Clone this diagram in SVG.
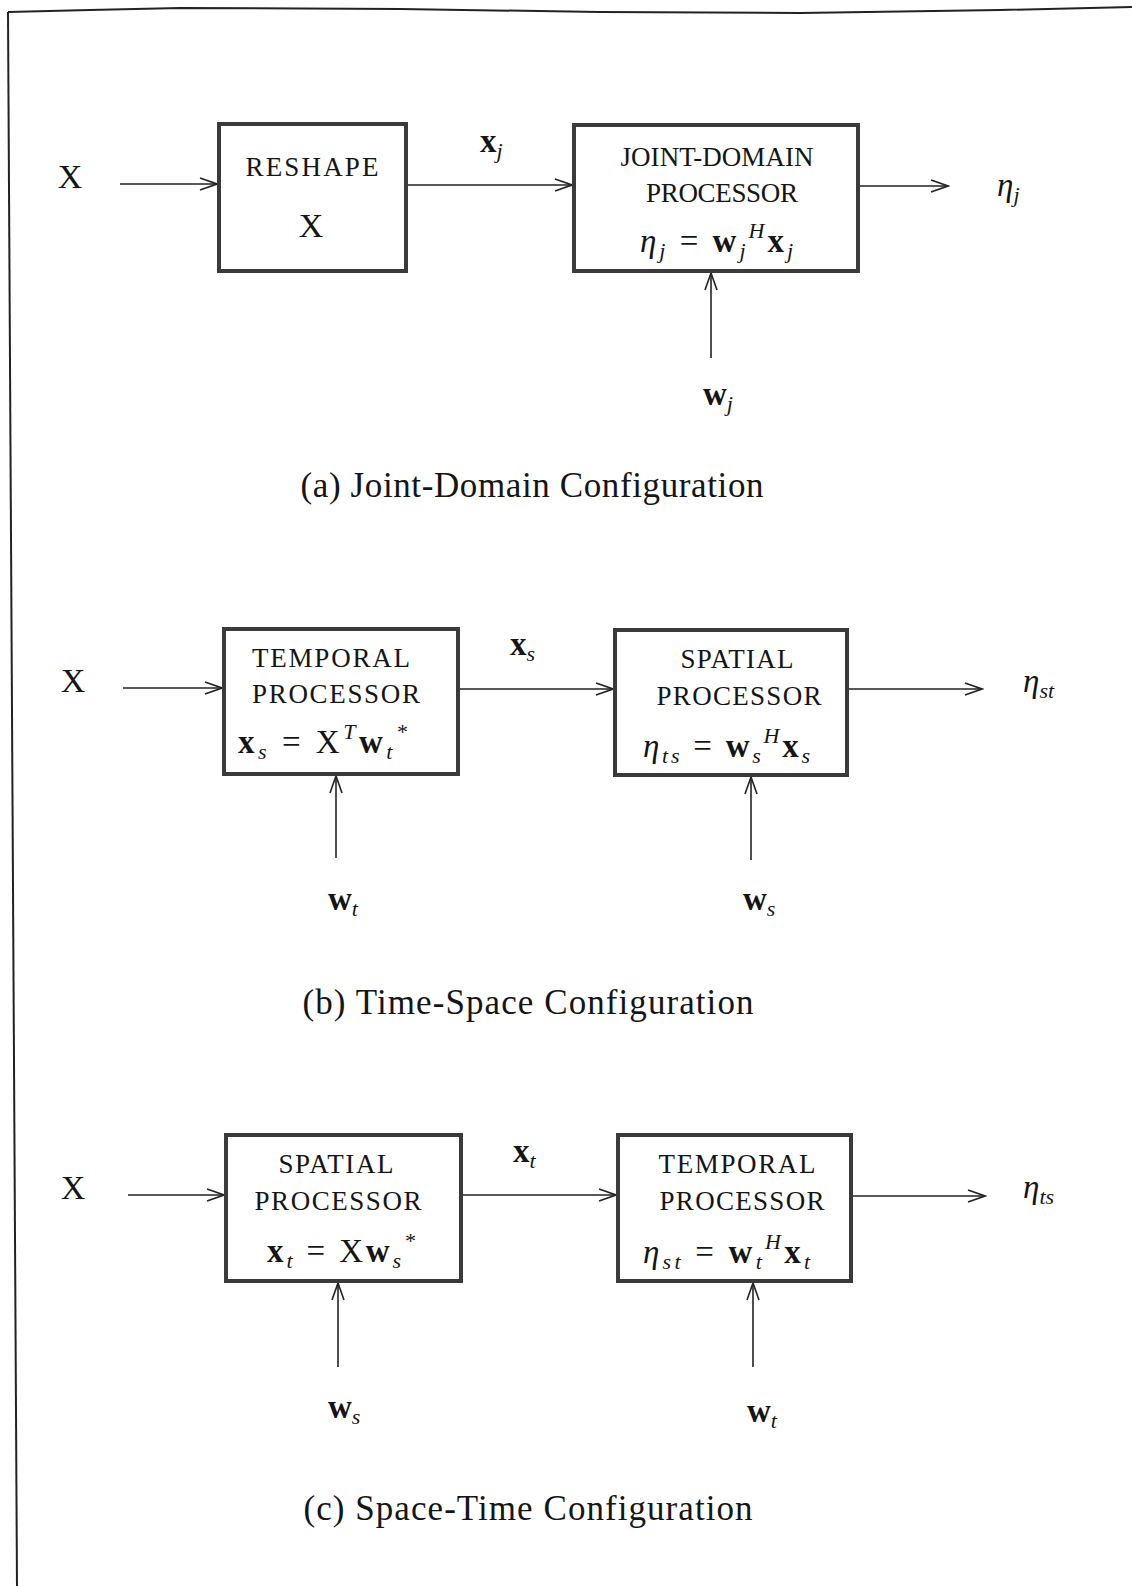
<svg xmlns="http://www.w3.org/2000/svg" width="1132" height="1586" viewBox="0 0 1132 1586">
<style>
text{font-family:"Liberation Serif","DejaVu Serif",serif;fill:#151515}
.box{fill:none;stroke:#3a3a3a;stroke-width:4}
.lbl{font-size:27px;text-anchor:middle}
.eq{font-size:33px}
.big{font-size:34px;text-anchor:middle}
.cap{font-size:35px;text-anchor:middle}
.v{font-weight:bold}
.it{font-style:italic}
.sub{font-size:22px;font-style:italic}
.sup{font-size:22px;font-style:italic}
.con line{stroke:#222;stroke-width:1.6}
.frame{fill:none;stroke:#222;stroke-width:2}
</style>
<defs>
<marker id="ah" markerUnits="userSpaceOnUse" markerWidth="20" markerHeight="16" viewBox="-18 -8 20 16" refX="0" refY="0" orient="auto">
<path d="M-17,-6 L0,0 L-17,6" fill="none" stroke="#222" stroke-width="1.6"/>
</marker>
</defs>
<rect width="1132" height="1586" fill="#fff"/>
<g id="frame">
<polyline class="frame" points="17,1586 8,12"/>
<polyline class="frame" points="8,12 90,10 180,8 400,9 600,12 800,13 1000,10 1132,7"/>
</g>

<g class="con" id="connectors">
<line x1="120" y1="184" x2="217" y2="184" marker-end="url(#ah)"/>
<line x1="408" y1="185" x2="572" y2="185" marker-end="url(#ah)"/>
<line x1="860" y1="186" x2="948" y2="186" marker-end="url(#ah)"/>
<line x1="711" y1="358" x2="711" y2="273" marker-end="url(#ah)"/>

<line x1="123" y1="688" x2="222" y2="688" marker-end="url(#ah)"/>
<line x1="460" y1="689" x2="613" y2="689" marker-end="url(#ah)"/>
<line x1="849" y1="689" x2="982" y2="689" marker-end="url(#ah)"/>
<line x1="336" y1="858" x2="336" y2="776" marker-end="url(#ah)"/>
<line x1="751" y1="860" x2="751" y2="777" marker-end="url(#ah)"/>

<line x1="128" y1="1195" x2="224" y2="1195" marker-end="url(#ah)"/>
<line x1="463" y1="1195" x2="616" y2="1195" marker-end="url(#ah)"/>
<line x1="853" y1="1196" x2="985" y2="1196" marker-end="url(#ah)"/>
<line x1="338" y1="1367" x2="338" y2="1283" marker-end="url(#ah)"/>
<line x1="753" y1="1367" x2="753" y2="1283" marker-end="url(#ah)"/>
</g>

<!-- (a) -->
<g id="in-a"><text class="big" x="70" y="188">X</text></g>
<g id="reshape">
<rect class="box" x="219" y="124" width="187" height="147"/>
<text class="lbl" x="312" y="176" textLength="133" lengthAdjust="spacing">RESHAPE</text>
<text class="big" x="311" y="237">X</text>
</g>
<g id="lbl-xj"><text class="eq" x="480" y="152"><tspan class="v">x</tspan><tspan class="sub" dy="6">j</tspan></text></g>
<g id="joint">
<rect class="box" x="574" y="125" width="284" height="146"/>
<text class="lbl" x="717" y="166" textLength="193" lengthAdjust="spacing">JOINT-DOMAIN</text>
<text class="lbl" x="722" y="202" textLength="152" lengthAdjust="spacing">PROCESSOR</text>
<text class="eq" x="640" y="252" textLength="153" lengthAdjust="spacing"><tspan class="it">η</tspan><tspan class="sub" dy="6">j</tspan><tspan dy="-6"> = </tspan><tspan class="v">w</tspan><tspan class="sub" dy="6">j</tspan><tspan class="sup" dy="-20">H</tspan><tspan class="v" dy="14">x</tspan><tspan class="sub" dy="6">j</tspan></text>
</g>
<g id="out-a"><text class="eq" x="997" y="196"><tspan class="it">η</tspan><tspan class="sub" dy="6">j</tspan></text></g>
<g id="wj"><text class="eq" x="703" y="405"><tspan class="v">w</tspan><tspan class="sub" dy="6">j</tspan></text></g>
<g id="cap-a"><text class="cap" x="532" y="497" textLength="463" lengthAdjust="spacing">(a) Joint-Domain Configuration</text></g>

<!-- (b) -->
<g id="in-b"><text class="big" x="73" y="692">X</text></g>
<g id="temporal-b">
<rect class="box" x="224" y="629" width="234" height="145"/>
<text class="lbl" x="331" y="667" textLength="158" lengthAdjust="spacing">TEMPORAL</text>
<text class="lbl" x="336" y="703" textLength="168" lengthAdjust="spacing">PROCESSOR</text>
<text class="eq" x="238" y="753" textLength="169" lengthAdjust="spacing"><tspan class="v">x</tspan><tspan class="sub" dy="6">s</tspan><tspan dy="-6"> = X</tspan><tspan class="sup" dy="-14">T</tspan><tspan class="v" dy="14">w</tspan><tspan class="sub" dy="6">t</tspan><tspan class="sup" dy="-20">*</tspan></text>
</g>
<g id="lbl-xs"><text class="eq" x="510" y="655"><tspan class="v">x</tspan><tspan class="sub" dy="6">s</tspan></text></g>
<g id="spatial-b">
<rect class="box" x="615" y="630" width="232" height="145"/>
<text class="lbl" x="737" y="668" textLength="113" lengthAdjust="spacing">SPATIAL</text>
<text class="lbl" x="739" y="705" textLength="165" lengthAdjust="spacing">PROCESSOR</text>
<text class="eq" x="643" y="757" textLength="167" lengthAdjust="spacing"><tspan class="it">η</tspan><tspan class="sub" dy="6">ts</tspan><tspan dy="-6"> = </tspan><tspan class="v">w</tspan><tspan class="sub" dy="6">s</tspan><tspan class="sup" dy="-20">H</tspan><tspan class="v" dy="14">x</tspan><tspan class="sub" dy="6">s</tspan></text>
</g>
<g id="out-b"><text class="eq" x="1023" y="692"><tspan class="it">η</tspan><tspan class="sub" dy="6">st</tspan></text></g>
<g id="wt-b"><text class="eq" x="328" y="910"><tspan class="v">w</tspan><tspan class="sub" dy="6">t</tspan></text></g>
<g id="ws-b"><text class="eq" x="743" y="910"><tspan class="v">w</tspan><tspan class="sub" dy="6">s</tspan></text></g>
<g id="cap-b"><text class="cap" x="528" y="1014" textLength="451" lengthAdjust="spacing">(b) Time-Space Configuration</text></g>

<!-- (c) -->
<g id="in-c"><text class="big" x="73" y="1199">X</text></g>
<g id="spatial-c">
<rect class="box" x="226" y="1135" width="235" height="146"/>
<text class="lbl" x="336" y="1173" textLength="115" lengthAdjust="spacing">SPATIAL</text>
<text class="lbl" x="338" y="1210" textLength="167" lengthAdjust="spacing">PROCESSOR</text>
<text class="eq" x="267" y="1262" textLength="148" lengthAdjust="spacing"><tspan class="v">x</tspan><tspan class="sub" dy="6">t</tspan><tspan dy="-6"> = X</tspan><tspan class="v">w</tspan><tspan class="sub" dy="6">s</tspan><tspan class="sup" dy="-20">*</tspan></text>
</g>
<g id="lbl-xt"><text class="eq" x="513" y="1162"><tspan class="v">x</tspan><tspan class="sub" dy="6">t</tspan></text></g>
<g id="temporal-c">
<rect class="box" x="618" y="1135" width="233" height="146"/>
<text class="lbl" x="737" y="1173" textLength="157" lengthAdjust="spacing">TEMPORAL</text>
<text class="lbl" x="742" y="1210" textLength="165" lengthAdjust="spacing">PROCESSOR</text>
<text class="eq" x="643" y="1263" textLength="167" lengthAdjust="spacing"><tspan class="it">η</tspan><tspan class="sub" dy="6">st</tspan><tspan dy="-6"> = </tspan><tspan class="v">w</tspan><tspan class="sub" dy="6">t</tspan><tspan class="sup" dy="-20">H</tspan><tspan class="v" dy="14">x</tspan><tspan class="sub" dy="6">t</tspan></text>
</g>
<g id="out-c"><text class="eq" x="1023" y="1198"><tspan class="it">η</tspan><tspan class="sub" dy="6">ts</tspan></text></g>
<g id="ws-c"><text class="eq" x="328" y="1418"><tspan class="v">w</tspan><tspan class="sub" dy="6">s</tspan></text></g>
<g id="wt-c"><text class="eq" x="747" y="1422"><tspan class="v">w</tspan><tspan class="sub" dy="6">t</tspan></text></g>
<g id="cap-c"><text class="cap" x="528" y="1520" textLength="449" lengthAdjust="spacing">(c) Space-Time Configuration</text></g>
</svg>
